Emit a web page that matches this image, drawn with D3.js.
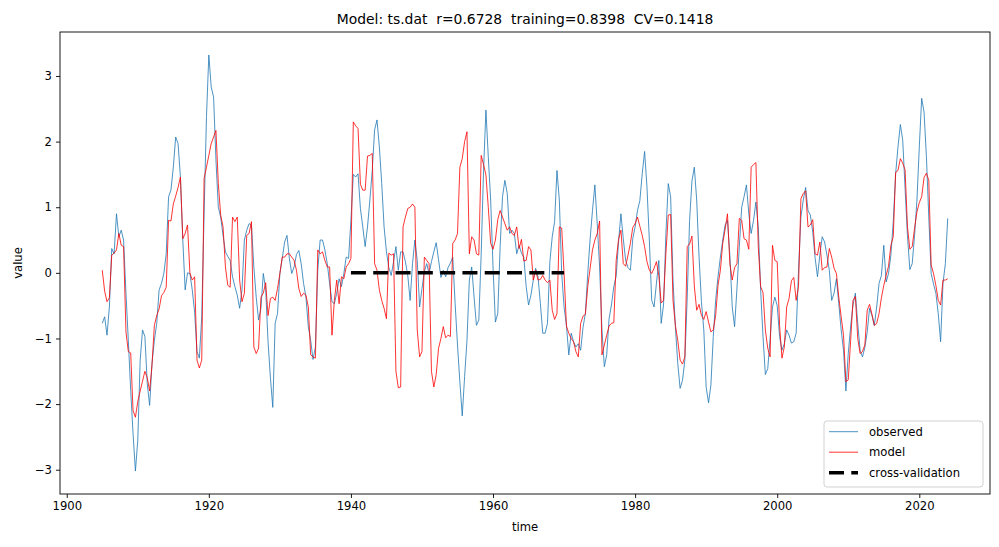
<!DOCTYPE html>
<html>
<head>
<meta charset="utf-8">
<script src="https://cdn.jsdelivr.net/npm/d3@7"></script>
<style>
  body { margin: 0; background: #fff; }
  svg { font-family: "DejaVu Sans", sans-serif; }
</style>
</head>
<body>
<svg id="chart" width="999" height="547"></svg>
<script>
// series sampled 3 times a year, starting Jan 1905
var startYear = 1905, perYear = 3;

var observed = [
  // 1905-1909
  -0.77, -0.67, -0.95, -0.52, 0.37, 0.29, 0.9, 0.55, 0.65, 0.5, -0.31, -1.03, -1.79, -2.45, -3.02,
  // 1910-1914
  -2.55, -1.33, -0.87, -0.97, -1.69, -2.02, -1.38, -1.03, -0.77, -0.26, -0.16, -0.01, 0.29, 1.16, 1.26,
  // 1915-1919
  1.61, 2.07, 1.97, 1.46, 0.5, -0.26, 0.0, -0.01, -0.26, -0.6, -1.2, -1.3, -0.67, 0.9, 2.38,
  // 1920-1924
  3.32, 2.83, 2.68, 1.72, 1.0, 0.85, 0.57, 0.32, 0.25, 0.19, -0.06, -0.21, -0.34, -0.54, -0.26,
  // 1925-1929
  0.5, 0.65, 0.75, 0.73, 0.09, -0.37, -0.72, -0.54, -0.01, -0.25, -1.05, -1.6, -2.05, -0.77, -0.62,
  // 1930-1934
  -0.01, 0.22, 0.47, 0.57, 0.22, -0.01, 0.09, 0.28, 0.34, 0.14, -0.16, -0.37, -0.82, -1.03, -1.32,
  // 1935-1939
  -1.13, 0.04, 0.5, 0.5, 0.35, 0.14, -0.16, -0.44, -0.47, -0.31, -0.09, -0.21, -0.01, 0.24, 0.22,
  // 1940-1944
  0.8, 1.5, 1.46, 1.51, 0.98, 0.7, 0.4, 0.7, 1.11, 1.56, 2.18, 2.33, 1.92, 1.36, 0.7,
  // 1945-1949
  0.32, 0.08, -0.04, 0.17, 0.4, 0.04, 0.32, 0.32, 0.17, -0.04, -0.42, 0.14, 0.5, 0.19, -0.52,
  // 1950-1954
  -0.24, 0.02, 0.14, -0.01, 0.17, 0.32, 0.46, 0.2, -0.07, 0.04, -0.06, 0.08, 0.15, 0.24, -0.47,
  // 1955-1959
  -1.1, -1.66, -2.18, -1.58, -1.03, -0.11, 0.09, -0.37, -0.8, -0.72, 0.29, 1.56, 2.48, 1.77, 1.11,
  // 1960-1964
  0.09, -0.75, -0.62, 0.4, 1.16, 1.41, 1.21, 0.6, 0.65, 0.6, 0.29, 0.42, 0.3, 0.24, -0.21,
  // 1965-1969
  -0.49, -0.34, -0.11, 0.07, -0.06, -0.47, -0.92, -0.92, -0.77, 0.17, 0.55, 0.78, 1.56, 1.11, -0.01,
  // 1970-1974
  -0.52, -0.8, -1.25, -0.92, -1.05, -1.13, -1.08, -1.18, -0.83, -0.62, -0.01, 0.52, 0.95, 1.34, 0.75,
  // 1975-1979
  0.09, -0.87, -1.43, -1.25, -0.7, -0.49, -0.21, -0.05, 0.47, 0.9, 0.52, 0.19, 0.08, 0.04, 0.52,
  // 1980-1984
  0.7, 0.95, 1.1, 1.51, 1.85, 1.31, 0.5, -0.42, -0.52, -0.16, 0.19, -0.77, -0.49, 0.6, 1.36,
  // 1985-1989
  1.16, -0.11, -0.82, -1.38, -1.76, -1.64, -1.33, -0.37, 0.8, 1.4, 1.61, 1.11, 0.24, -0.44, -0.87,
  // 1990-1994
  -1.74, -1.98, -1.71, -0.97, -0.42, -0.06, 0.24, 0.5, 0.73, 0.8, 0.27, -0.52, -0.82, -0.24, 0.4,
  // 1995-1999
  1.0, 1.16, 1.34, 0.9, 0.6, 0.8, 1.08, 0.7, -0.26, -0.97, -1.55, -1.46, -1.0, -0.52, -0.37,
  // 2000-2004
  -0.5, -0.97, -1.18, -1.08, -0.87, -0.95, -1.07, -1.05, -0.92, 0.04, 0.85, 1.11, 1.3, 0.95, 0.88,
  // 2005-2009
  0.62, 0.23, -0.06, 0.27, 0.55, 0.47, 0.27, 0.04, -0.42, -0.31, -0.09, -0.47, -0.87, -1.18, -1.8,
  // 2010-2014
  -1.23, -0.82, -0.49, -0.31, -0.77, -1.18, -1.28, -1.14, -0.9, -0.54, -0.65, -0.8, -0.52, -0.16, -0.04,
  // 2015-2019
  0.42, -0.14, -0.01, 0.27, 0.78, 1.51, 1.92, 2.26, 2.02, 1.28, 0.57, 0.05, 0.14, 0.57, 1.11,
  // 2020-2024
  1.92, 2.66, 2.45, 1.77, 0.85, -0.01, -0.17, -0.31, -0.62, -1.05, -0.16, 0.14, 0.83
];

var model = [
  // 1905-1909
  0.04, -0.28, -0.44, -0.38, 0.27, 0.3, 0.35, 0.6, 0.42, 0.4, -0.9, -1.2, -1.22, -2.1, -2.2,
  // 1910-1914
  -1.96, -1.8, -1.65, -1.5, -1.6, -1.8, -1.4, -0.8, -0.65, -0.55, -0.35, -0.3, -0.22, 0.8, 0.79,
  // 1915-1919
  1.05, 1.17, 1.3, 1.46, 0.52, 0.6, 0.73, 0.0, -0.11, -0.06, -1.33, -1.45, -1.33, 1.44, 1.61,
  // 1920-1924
  1.79, 1.97, 2.07, 2.17, 1.36, 0.88, 0.7, 0.09, -0.19, -0.22, 0.85, 0.78, 0.85, -0.11, -0.44,
  // 1925-1929
  -0.31, 0.57, 0.6, 0.78, -1.13, -1.23, -1.15, -0.37, -0.31, -0.15, -0.65, -0.39, -0.37, -0.42, -0.24,
  // 1930-1934
  -0.01, 0.24, 0.24, 0.29, 0.29, 0.24, 0.19, 0.04, -0.24, -0.36, -0.31, -0.34, -0.52, -1.25, -1.28,
  // 1935-1939
  -1.3, 0.35, 0.29, 0.32, 0.19, 0.09, 0.09, -0.95, -0.42, -0.11, -0.47, -0.06, -0.09, 0.09, 0.14,
  // 1940-1944
  0.22, 2.3, 2.24, 2.2, 1.35, 1.26, 1.26, 1.78, 1.79, 1.82, 0.14, 0.04, -0.26, -0.42, -0.54,
  // 1945-1949
  -0.7, 0.3, 0.27, 0.29, -1.5, -1.75, -1.74, 0.7, 0.85, 0.98, 1.0, 1.05, 1.0, -0.87, -1.28,
  // 1950-1954
  -1.2, 0.24, 0.19, 0.14, -1.5, -1.74, -1.55, -1.15, -1.0, -0.82, -0.99, -0.95, -0.97, 0.45, 0.5,
  // 1955-1959
  0.6, 1.61, 1.74, 2.0, 2.15, 0.29, 0.55, 0.5, 0.29, 0.27, 1.79, 1.65, 1.49, 1.0, 0.45,
  // 1960-1964
  0.36, 0.5, 0.81, 0.95, 0.85, 0.75, 0.65, 0.7, 0.6, 0.57, 0.7, 0.37, 0.51, 0.18, 0.19,
  // 1965-1969
  0.4, 0.35, -0.11, 0.04, -0.11, -0.1, -0.04, -0.11, -0.15, -0.11, -0.57, -0.71, -0.62, 0.7, 0.68,
  // 1970-1974
  -0.01, -0.81, -0.92, -1.0, -1.05, -1.2, -1.28, -0.77, -0.66, -0.63, -0.21, 0.07, 0.35, 0.5, 0.6,
  // 1975-1979
  0.79, -1.25, -1.1, -0.95, -0.81, -0.77, -0.76, 0.19, 0.51, 0.65, 0.14, 0.1, 0.27, 0.45, 0.69,
  // 1980-1984
  0.75, 0.85, 0.71, 0.57, 0.4, 0.17, 0.04, -0.01, 0.07, 0.17, -0.04, -0.46, -0.42, 0.3, 0.88,
  // 1985-1989
  0.89, -0.42, -0.8, -1.03, -1.33, -1.39, -1.28, 0.4, 0.44, 0.56, -0.2, -0.57, -0.48, -0.65, -0.71,
  // 1990-1994
  -0.59, -0.75, -0.9, -0.87, -0.65, -0.19, 0.04, 0.45, 0.66, 0.9, 0.14, -0.11, 0.08, 0.14, 0.83,
  // 1995-1999
  0.8, 0.52, 0.5, 0.36, 1.61, 1.65, 1.68, 0.4, -0.21, -0.3, -0.87, -1.15, -1.28, 0.42, 0.19,
  // 2000-2004
  0.17, -0.8, -1.3, -1.13, -0.52, -0.39, -0.12, -0.07, -0.42, -0.21, 1.13, 1.21, 1.25, 0.7, 0.73,
  // 2005-2009
  0.81, 0.29, 0.27, 0.47, 0.04, 0.08, 0.09, 0.37, 0.24, 0.07, -0.01, -0.37, -0.67, -0.95, -1.66,
  // 2010-2014
  -1.63, -1.03, -0.42, -0.36, -1.0, -1.23, -1.2, -1.1, -0.57, -0.48, -0.63, -0.8, -0.77, -0.62, -0.38,
  // 2015-2019
  -0.19, -0.04, 0.1, 0.42, 0.55, 1.53, 1.56, 1.74, 1.67, 1.57, 0.7, 0.36, 0.4, 0.68, 0.93,
  // 2020-2024
  1.07, 1.16, 1.45, 1.52, 1.41, 0.12, -0.01, -0.19, -0.42, -0.49, -0.11, -0.11, -0.09
];

var cvYears = [1940, 1970];
var cvLevel = [0, 0];

var xTicks = [1900, 1920, 1940, 1960, 1980, 2000, 2020];
var yTicks = [-3, -2, -1, 0, 1, 2, 3];
var legendLabels = ["observed", "model", "cross-validation"];
var titleText = "Model: ts.dat  r=0.6728  training=0.8398  CV=0.1418";

(function() {
  "use strict";

  var plotL = 60, plotR = 990, plotT = 32, plotB = 494;

  var svg = d3.select("#chart");

  var x = d3.scaleLinear().domain([1899.05, 2029.95]).range([plotL, plotR]);
  var y = d3.scaleLinear().domain([-3.37, 3.67]).range([plotB, plotT]);

  function yearOf(i) { return startYear + i / perYear; }

  var line = d3.line()
      .x(function(d, i) { return x(yearOf(i)); })
      .y(function(d) { return y(d); });

  var plot = svg.append("g");

  plot.append("path")
      .datum(observed)
      .attr("fill", "none")
      .attr("stroke", "#1f77b4")
      .attr("stroke-width", 0.8)
      .attr("stroke-linejoin", "round")
      .attr("d", line);

  plot.append("path")
      .datum(model)
      .attr("fill", "none")
      .attr("stroke", "red")
      .attr("stroke-width", 0.8)
      .attr("stroke-linejoin", "round")
      .attr("d", line);

  plot.append("path")
      .datum(cvYears)
      .attr("fill", "none")
      .attr("stroke", "black")
      .attr("stroke-width", 3.5)
      .attr("stroke-dasharray", "15,7.3")
      .attr("d", d3.line()
          .x(function(d) { return x(d); })
          .y(function(d, i) { return y(cvLevel[i]); }));

  // axes
  var fmtY = function(d) { return d < 0 ? "\u2212" + (-d) : String(d); };

  var gx = svg.append("g")
      .attr("transform", "translate(0," + plotB + ")")
      .call(d3.axisBottom(x).tickValues(xTicks).tickFormat(d3.format("d")).tickSize(4).tickPadding(4));
  var gy = svg.append("g")
      .attr("transform", "translate(" + plotL + ",0)")
      .call(d3.axisLeft(y).tickValues(yTicks).tickFormat(fmtY).tickSize(4).tickPadding(4));

  [gx, gy].forEach(function(g) {
    g.select(".domain").remove();
    g.selectAll("text").attr("font-size", 11.6).attr("fill", "#000").attr("font-family", "DejaVu Sans");
    g.selectAll("line").attr("stroke", "#000").attr("stroke-width", 0.9);
  });

  svg.append("rect")
      .attr("x", plotL).attr("y", plotT)
      .attr("width", plotR - plotL).attr("height", plotB - plotT)
      .attr("fill", "none").attr("stroke", "#000").attr("stroke-width", 0.9);

  svg.append("text")
      .attr("x", (plotL + plotR) / 2).attr("y", 24)
      .attr("text-anchor", "middle")
      .attr("font-size", 13.9)
      .style("white-space", "pre")
      .text(titleText);

  svg.append("text")
      .attr("x", (plotL + plotR) / 2).attr("y", 531)
      .attr("text-anchor", "middle")
      .attr("font-size", 11.6)
      .text("time");

  svg.append("text")
      .attr("transform", "translate(22," + ((plotT + plotB) / 2) + ") rotate(-90)")
      .attr("text-anchor", "middle")
      .attr("font-size", 11.6)
      .text("value");

  // legend
  var lg = svg.append("g");
  lg.append("rect")
      .attr("x", 824).attr("y", 421)
      .attr("width", 159).attr("height", 66)
      .attr("rx", 3)
      .attr("fill", "#fff").attr("fill-opacity", 0.8)
      .attr("stroke", "#cccccc").attr("stroke-width", 0.9);

  var legendStyles = [
    { color: "#1f77b4", width: 0.8, dash: null },
    { color: "red", width: 0.8, dash: null },
    { color: "black", width: 3.5, dash: "15,7.3" }
  ];

  var item = lg.selectAll("g.item")
      .data(legendLabels)
    .enter().append("g")
      .attr("class", "item")
      .attr("transform", function(d, i) { return "translate(0," + (431.7 + i * 20.5) + ")"; });

  item.append("line")
      .attr("x1", 829).attr("x2", 858)
      .attr("stroke", function(d, i) { return legendStyles[i].color; })
      .attr("stroke-width", function(d, i) { return legendStyles[i].width; })
      .attr("stroke-dasharray", function(d, i) { return legendStyles[i].dash; });

  item.append("text")
      .attr("x", 869)
      .attr("dy", "0.35em")
      .attr("font-size", 11.6)
      .text(function(d) { return d; });
})();
</script>
</body>
</html>
